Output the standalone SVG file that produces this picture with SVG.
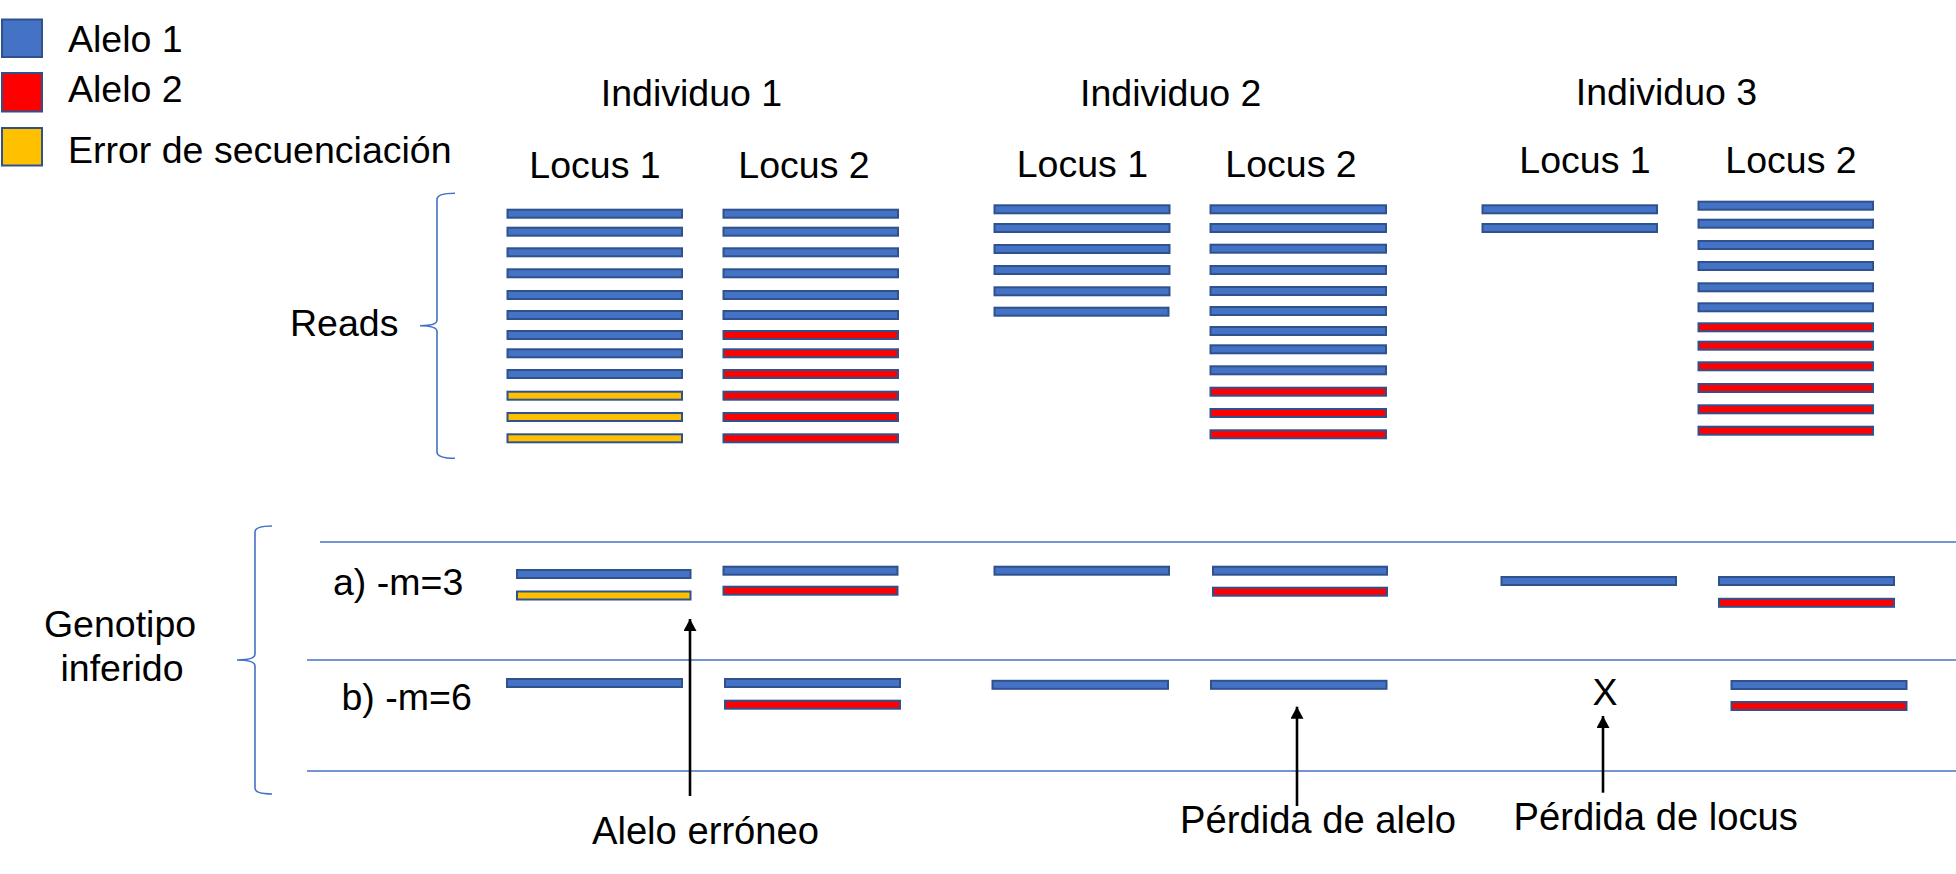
<svg xmlns="http://www.w3.org/2000/svg" width="1956" height="874" viewBox="0 0 1956 874">
<style>
text{font-family:"Liberation Sans",Arial,sans-serif;font-size:37.5px;fill:#000}
.b{fill:#4472C4;stroke:#2F528F;stroke-width:2}
.r{fill:#FF0000;stroke:#2F528F;stroke-width:2}
.y{fill:#FFC000;stroke:#2F528F;stroke-width:2}
.sep{stroke:#4472C4;stroke-width:1.4;fill:none}
.brace{stroke:#4472C4;stroke-width:1.6;fill:none}
.arr{stroke:#000;stroke-width:2.6;fill:none}
.lab{font-size:38.2px}
.mid{text-anchor:middle}
</style>
<defs>
<marker id="ah" markerUnits="userSpaceOnUse" markerWidth="13" markerHeight="13" refX="12" refY="6.5" orient="auto">
<path d="M0,0 L12,6.5 L0,13 z" fill="#000"/>
</marker>
</defs>
<rect width="1956" height="874" fill="#fff"/>

<g id="legend">
<rect class="b" x="2" y="19.5" width="40" height="37.5" stroke-width="1.5"/>
<rect class="r" x="2" y="73" width="40" height="38.5" stroke-width="1.5"/>
<rect class="y" x="2" y="128" width="40" height="37.5" stroke-width="1.5"/>
<text x="68" y="51.7">Alelo 1</text>
<text x="68" y="101.7">Alelo 2</text>
<text x="68" y="162.7">Error de secuenciación</text>
</g>

<g id="headers">
<text class="mid" x="691.5" y="105.7">Individuo 1</text>
<text class="mid" x="1170.7" y="105.7">Individuo 2</text>
<text class="mid" x="1666.5" y="105">Individuo 3</text>
<text class="mid" x="595" y="178.3">Locus 1</text>
<text class="mid" x="804" y="178.3">Locus 2</text>
<text class="mid" x="1082.4" y="177.3">Locus 1</text>
<text class="mid" x="1291" y="177.3">Locus 2</text>
<text class="mid" x="1585" y="172.7">Locus 1</text>
<text class="mid" x="1791" y="172.7">Locus 2</text>
</g>

<g id="reads-label">
<text class="mid" x="344.2" y="336">Reads</text>
<path class="brace" d="M455,193.3 Q437,193.3 437,199.5 L437,320 Q437,325.7 420,325.7 Q437,325.7 437,331.5 L437,452 Q437,458.3 455,458.3"/>
</g>

<g id="reads-ind1-locus1">
<rect class="b" x="507.5" y="209.7" width="174.5" height="8"/>
<rect class="b" x="507.5" y="227.7" width="174.5" height="8"/>
<rect class="b" x="507.5" y="248.3" width="174.5" height="8"/>
<rect class="b" x="507.5" y="269.3" width="174.5" height="8"/>
<rect class="b" x="507.5" y="291" width="174.5" height="8"/>
<rect class="b" x="507.5" y="311" width="174.5" height="8"/>
<rect class="b" x="507.5" y="331" width="174.5" height="8"/>
<rect class="b" x="507.5" y="349.3" width="174.5" height="8"/>
<rect class="b" x="507.5" y="370" width="174.5" height="8"/>
<rect class="y" x="507.5" y="391.7" width="174.5" height="8"/>
<rect class="y" x="507.5" y="413" width="174.5" height="8"/>
<rect class="y" x="507.5" y="434.3" width="174.5" height="8"/>
</g>

<g id="reads-ind1-locus2">
<rect class="b" x="723.5" y="209.7" width="174.5" height="8"/>
<rect class="b" x="723.5" y="227.7" width="174.5" height="8"/>
<rect class="b" x="723.5" y="248.3" width="174.5" height="8"/>
<rect class="b" x="723.5" y="269.3" width="174.5" height="8"/>
<rect class="b" x="723.5" y="291" width="174.5" height="8"/>
<rect class="b" x="723.5" y="311" width="174.5" height="8"/>
<rect class="r" x="723.5" y="331" width="174.5" height="8"/>
<rect class="r" x="723.5" y="349.3" width="174.5" height="8"/>
<rect class="r" x="723.5" y="370" width="174.5" height="8"/>
<rect class="r" x="723.5" y="391.7" width="174.5" height="8"/>
<rect class="r" x="723.5" y="413" width="174.5" height="8"/>
<rect class="r" x="723.5" y="434.3" width="174.5" height="8"/>
</g>

<g id="reads-ind2-locus1">
<rect class="b" x="994.5" y="205.3" width="175" height="8"/>
<rect class="b" x="994.5" y="224" width="175" height="8"/>
<rect class="b" x="994.5" y="245" width="175" height="8"/>
<rect class="b" x="994.5" y="266" width="175" height="8"/>
<rect class="b" x="994.5" y="287.3" width="175" height="8"/>
<rect class="b" x="994.5" y="307.7" width="174" height="8"/>
</g>

<g id="reads-ind2-locus2">
<rect class="b" x="1210.5" y="205.3" width="175.5" height="8"/>
<rect class="b" x="1210.5" y="224" width="175.5" height="8"/>
<rect class="b" x="1210.5" y="244.7" width="175.5" height="8"/>
<rect class="b" x="1210.5" y="266" width="175.5" height="8"/>
<rect class="b" x="1210.5" y="287" width="175.5" height="8"/>
<rect class="b" x="1210.5" y="307" width="175.5" height="8"/>
<rect class="b" x="1210.5" y="327" width="175.5" height="8"/>
<rect class="b" x="1210.5" y="345.3" width="175.5" height="8"/>
<rect class="b" x="1210.5" y="366.3" width="175.5" height="8"/>
<rect class="r" x="1210.5" y="387.7" width="175.5" height="8"/>
<rect class="r" x="1210.5" y="409" width="175.5" height="8"/>
<rect class="r" x="1210.5" y="430.3" width="175.5" height="8"/>
</g>

<g id="reads-ind3-locus1">
<rect class="b" x="1482.5" y="205.3" width="174.5" height="8"/>
<rect class="b" x="1482.5" y="224" width="174.5" height="8"/>
</g>

<g id="reads-ind3-locus2">
<rect class="b" x="1698.5" y="201.7" width="174.5" height="8"/>
<rect class="b" x="1698.5" y="219.7" width="174.5" height="8"/>
<rect class="b" x="1698.5" y="241" width="174.5" height="8"/>
<rect class="b" x="1698.5" y="262" width="174.5" height="8"/>
<rect class="b" x="1698.5" y="283.3" width="174.5" height="8"/>
<rect class="b" x="1698.5" y="303.3" width="174.5" height="8"/>
<rect class="r" x="1698.5" y="323.3" width="174.5" height="8"/>
<rect class="r" x="1698.5" y="341.7" width="174.5" height="8"/>
<rect class="r" x="1698.5" y="362.3" width="174.5" height="8"/>
<rect class="r" x="1698.5" y="384" width="174.5" height="8"/>
<rect class="r" x="1698.5" y="405.3" width="174.5" height="8"/>
<rect class="r" x="1698.5" y="426.7" width="174.5" height="8"/>
</g>

<g id="genotype-frame">
<line class="sep" x1="320" y1="542" x2="1956" y2="542"/>
<line class="sep" x1="307" y1="660" x2="1956" y2="660"/>
<line class="sep" x1="307" y1="771" x2="1956" y2="771"/>
<path class="brace" d="M272,526 Q255,526 255,532 L255,654 Q255,660 237,660 Q255,660 255,666 L255,788 Q255,794 272,794"/>
<text class="mid" x="120" y="636.7">Genotipo</text>
<text class="mid" x="122" y="681">inferido</text>
<text x="333" y="595">a) -m=3</text>
<text x="341.5" y="710">b) -m=6</text>
</g>

<g id="geno-a">
<rect class="b" x="517" y="570" width="173.5" height="8"/>
<rect class="y" x="517" y="591.5" width="173.5" height="8"/>
<rect class="b" x="723.5" y="566.7" width="174" height="8"/>
<rect class="r" x="723.5" y="586.7" width="174" height="8"/>
<rect class="b" x="994.5" y="566.7" width="174.5" height="8"/>
<rect class="b" x="1213" y="566.7" width="174" height="8"/>
<rect class="r" x="1213" y="587.7" width="174" height="8"/>
<rect class="b" x="1501.5" y="577" width="174.5" height="8"/>
<rect class="b" x="1719" y="577" width="175" height="8"/>
<rect class="r" x="1719" y="598.8" width="175" height="8"/>
</g>

<g id="geno-b">
<rect class="b" x="507" y="679" width="175" height="8"/>
<rect class="b" x="725" y="679" width="175" height="8"/>
<rect class="r" x="725" y="700.7" width="175" height="8"/>
<rect class="b" x="992.5" y="680.8" width="175.5" height="8"/>
<rect class="b" x="1211" y="680.8" width="175.5" height="8"/>
<text class="mid" x="1605" y="705">X</text>
<rect class="b" x="1731.5" y="681" width="175" height="8"/>
<rect class="r" x="1731.5" y="702" width="175" height="8"/>
</g>

<g id="connectors">
<line class="arr" x1="690" y1="796" x2="690" y2="619" marker-end="url(#ah)"/>
<line class="arr" x1="1297" y1="806" x2="1297" y2="706.7" marker-end="url(#ah)"/>
<line class="arr" x1="1603" y1="792.7" x2="1603" y2="716" marker-end="url(#ah)"/>
</g>

<g id="annotations">
<text class="mid lab" x="705.5" y="844">Alelo erróneo</text>
<text class="mid lab" x="1318" y="832.7">Pérdida de alelo</text>
<text class="mid lab" x="1655.7" y="830">Pérdida de locus</text>
</g>
</svg>
